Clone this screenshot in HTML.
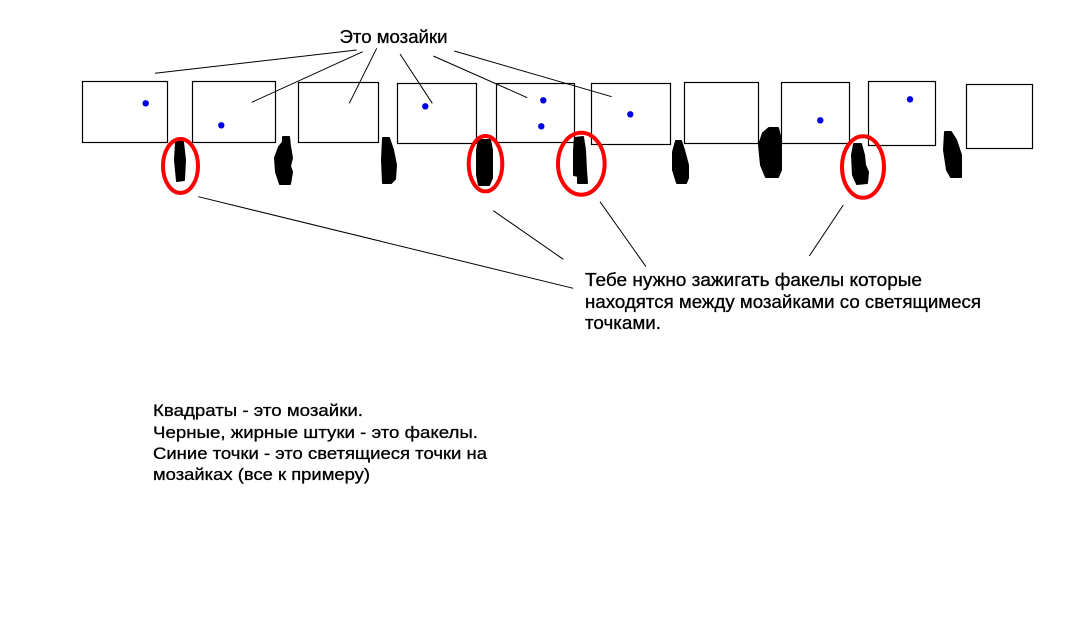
<!DOCTYPE html>
<html>
<head>
<meta charset="utf-8">
<style>
html,body{margin:0;padding:0;background:#fff;}
svg{display:block;}
text{font-family:"Liberation Sans","DejaVu Sans",sans-serif;fill:#000;stroke:#000;stroke-width:0.3;}
</style>
</head>
<body>
<svg width="1075" height="637" viewBox="0 0 1075 637" xmlns="http://www.w3.org/2000/svg">
<rect x="0" y="0" width="1075" height="637" fill="#fff"/>

<!-- boxes -->
<g fill="none" stroke="#000" stroke-width="1.2">
<rect x="82.5" y="81.5" width="85" height="61"/>
<rect x="192.5" y="81.5" width="83" height="61"/>
<rect x="298.5" y="82.5" width="80" height="60"/>
<rect x="397.5" y="83.5" width="79" height="60"/>
<rect x="496.5" y="83.5" width="78" height="59"/>
<rect x="591.5" y="83.5" width="79" height="61"/>
<rect x="684.5" y="82.5" width="74" height="61"/>
<rect x="781.5" y="82.5" width="68" height="61"/>
<rect x="868.5" y="81.5" width="67" height="64"/>
<rect x="966.5" y="84.5" width="66" height="64"/>
</g>

<!-- dots -->
<g fill="#0000e6">
<circle cx="145.7" cy="103.3" r="3.2"/>
<circle cx="221.3" cy="125.3" r="3.2"/>
<circle cx="425.3" cy="106.3" r="3.2"/>
<circle cx="543.3" cy="100.3" r="3.2"/>
<circle cx="541.3" cy="126.3" r="3.2"/>
<circle cx="630.3" cy="114.3" r="3.2"/>
<circle cx="820.3" cy="120.3" r="3.2"/>
<circle cx="910" cy="99.3" r="3.2"/>
</g>

<!-- leader lines -->
<g stroke="#000" stroke-width="1" fill="none">
<line x1="356.7" y1="50" x2="155" y2="73.3"/>
<line x1="362.7" y1="51.7" x2="251.7" y2="102.3"/>
<line x1="376.7" y1="48.3" x2="349.3" y2="103.3"/>
<line x1="400" y1="54" x2="432.3" y2="103.3"/>
<line x1="433.3" y1="56" x2="527.3" y2="97.7"/>
<line x1="454.3" y1="51" x2="611.7" y2="96.7"/>

<line x1="198.3" y1="196.7" x2="573.3" y2="288.3"/>
<line x1="493.3" y1="210.7" x2="563.3" y2="259.3"/>
<line x1="600" y1="201.7" x2="646" y2="266.7"/>
<line x1="843.3" y1="205" x2="809.3" y2="256"/>
</g>

<!-- torches -->
<g fill="#000" stroke="#000" stroke-width="2" stroke-linejoin="round">
<polygon points="176,142 183,142 185,160 184,180 177,181 175,160"/>
<polygon points="283,137 289,137 290,146 292,158 290,166 292,172 290,184 280,184 276,172 275,158 279,147 283,142"/>
<polygon points="383,138 389,138 393,150 396,165 395,179 391,183 383,183 382,160"/>
<polygon points="479,140 490,140 492,150 492,178 489,185 479,185 477,175 477,150"/>
<polygon points="575,138 583,137 585,150 586,170 587,183 578,183 578,176 574,175 574,150"/>
<polygon points="676,141 681,141 684,150 688,165 688,178 686,183 677,183 673,170 673,152"/>
<polygon points="769,128 778,128 781,140 781,170 778,177 766,177 761,165 759,145 763,133"/>
<polygon points="854,144 861,144 864,155 865,165 868,172 867,183 857,184 853,175 852,155"/>
<polygon points="945,132 951,132 956,140 961,155 961,177 951,177 947,170 944,150"/>
</g>

<!-- red ellipses -->
<g fill="none" stroke="#f00" stroke-width="4">
<ellipse cx="180.5" cy="166" rx="17.5" ry="27"/>
<ellipse cx="485.5" cy="163.7" rx="16.8" ry="27.7"/>
<ellipse cx="581.3" cy="163.7" rx="23.3" ry="31"/>
<ellipse cx="863" cy="167" rx="21" ry="30.8"/>
</g>

<!-- texts -->
<text x="339.5" y="43" font-size="18" textLength="108" lengthAdjust="spacingAndGlyphs">Это мозайки</text>

<text x="585" y="286" font-size="18" textLength="337" lengthAdjust="spacingAndGlyphs">Тебе нужно зажигать факелы которые</text>
<text x="585" y="308" font-size="18" textLength="396" lengthAdjust="spacingAndGlyphs">находятся между мозайками со светящимеся</text>
<text x="585" y="329" font-size="18" textLength="76" lengthAdjust="spacingAndGlyphs">точками.</text>

<text x="153" y="416" font-size="17" textLength="210" lengthAdjust="spacingAndGlyphs">Квадраты - это мозайки.</text>
<text x="153" y="438" font-size="17" textLength="325" lengthAdjust="spacingAndGlyphs">Черные, жирные штуки - это факелы.</text>
<text x="153" y="459" font-size="17" textLength="334" lengthAdjust="spacingAndGlyphs">Синие точки - это светящиеся точки на</text>
<text x="153" y="480" font-size="17" textLength="217" lengthAdjust="spacingAndGlyphs">мозайках (все к примеру)</text>
</svg>
</body>
</html>
